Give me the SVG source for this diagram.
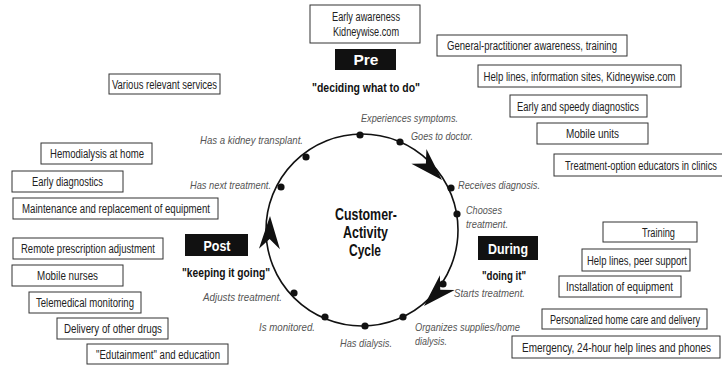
<svg xmlns="http://www.w3.org/2000/svg" width="722" height="365" viewBox="0 0 722 365">
<style>
text{font-family:"Liberation Sans",Arial,sans-serif}
.box rect{fill:#fff;stroke:#333;stroke-width:1}
.box text{font-size:12.5px;fill:#222;text-anchor:middle}
.phase rect{fill:#111}
.phase text.t{font-size:15px;font-weight:bold;fill:#fff;text-anchor:middle}
.phase text.q{font-size:12.5px;font-weight:bold;fill:#111;text-anchor:middle}
.act{font-size:11.5px;font-style:italic;fill:#555}
.center{font-size:16.5px;font-weight:bold;fill:#111;text-anchor:middle}
.dot{fill:#111}
</style>
<defs>
<path id="ah" d="M0,0 L-33,-10.5 L-23,0 L-33,10.5 Z" fill="#111"/>
</defs>
<rect width="722" height="365" fill="#fff"/>

<g id="connectors">
<circle cx="362" cy="230" r="96" fill="none" stroke="#111" stroke-width="1.6"/>
<use href="#ah" transform="translate(442,180) rotate(45.6)"/>
<use href="#ah" transform="translate(424,306) rotate(135)"/>
<use href="#ah" transform="translate(270,216) rotate(-89)"/>
</g>

<g id="cycle-center">
<text class="center" x="366" y="220" textLength="62" lengthAdjust="spacingAndGlyphs">Customer-</text>
<text class="center" x="365.5" y="238" textLength="45" lengthAdjust="spacingAndGlyphs">Activity</text>
<text class="center" x="365" y="256" textLength="32" lengthAdjust="spacingAndGlyphs">Cycle</text>
</g>

<g id="activities">
<circle class="dot" cx="360" cy="135" r="3.6"/><text class="act" x="361" y="122" textLength="97" lengthAdjust="spacingAndGlyphs">Experiences symptoms.</text>
<circle class="dot" cx="400" cy="142" r="3.6"/><text class="act" x="411" y="140" textLength="62" lengthAdjust="spacingAndGlyphs">Goes to doctor.</text>
<circle class="dot" cx="451" cy="188" r="3.6"/><text class="act" x="458" y="189" textLength="82" lengthAdjust="spacingAndGlyphs">Receives diagnosis.</text>
<circle class="dot" cx="457" cy="214" r="3.6"/><text class="act" x="466" y="214" textLength="36" lengthAdjust="spacingAndGlyphs">Chooses</text><text class="act" x="466" y="228" textLength="42" lengthAdjust="spacingAndGlyphs">treatment.</text>
<circle class="dot" cx="443" cy="284" r="3.6"/><text class="act" x="454" y="297" textLength="71" lengthAdjust="spacingAndGlyphs">Starts treatment.</text>
<circle class="dot" cx="403" cy="317" r="3.6"/><text class="act" x="415" y="331" textLength="105" lengthAdjust="spacingAndGlyphs">Organizes supplies/home</text><text class="act" x="415" y="345" textLength="32" lengthAdjust="spacingAndGlyphs">dialysis.</text>
<circle class="dot" cx="365" cy="326" r="3.6"/><text class="act" x="340" y="347" textLength="52" lengthAdjust="spacingAndGlyphs">Has dialysis.</text>
<circle class="dot" cx="325" cy="317" r="3.6"/><text class="act" x="259" y="331" textLength="56" lengthAdjust="spacingAndGlyphs">Is monitored.</text>
<circle class="dot" cx="294" cy="293" r="3.6"/><text class="act" x="203" y="301" textLength="79" lengthAdjust="spacingAndGlyphs">Adjusts treatment.</text>
<circle class="dot" cx="281" cy="187" r="3.6"/><text class="act" x="190" y="189" textLength="81" lengthAdjust="spacingAndGlyphs">Has next treatment.</text>
<circle class="dot" cx="306" cy="157" r="3.6"/><text class="act" x="200" y="144" textLength="103" lengthAdjust="spacingAndGlyphs">Has a kidney transplant.</text>
</g>

<g id="pre" class="phase">
<rect x="335" y="49" width="61" height="21"/>
<text class="t" x="366" y="65" textLength="25" lengthAdjust="spacingAndGlyphs">Pre</text>
<text class="q" x="366" y="92" textLength="108" lengthAdjust="spacingAndGlyphs">"deciding what to do"</text>
</g>
<g id="during" class="phase">
<rect x="478" y="236" width="60" height="24"/>
<text class="t" x="508" y="253.5" textLength="40" lengthAdjust="spacingAndGlyphs">During</text>
<text class="q" x="504" y="280" textLength="44" lengthAdjust="spacingAndGlyphs">"doing it"</text>
</g>
<g id="post" class="phase">
<rect x="185" y="234" width="63" height="22"/>
<text class="t" x="217" y="250.5" textLength="27" lengthAdjust="spacingAndGlyphs">Post</text>
<text class="q" x="226" y="277" textLength="88" lengthAdjust="spacingAndGlyphs">"keeping it going"</text>
</g>

<g id="b-early-awareness" class="box"><rect x="310" y="5" width="110" height="38"/><text x="366" y="21" textLength="68" lengthAdjust="spacingAndGlyphs">Early awareness</text><text x="366" y="36" textLength="66" lengthAdjust="spacingAndGlyphs">Kidneywise.com</text></g>
<g id="b-gp" class="box"><rect x="437" y="35" width="190" height="21"/><text x="532" y="50" textLength="170" lengthAdjust="spacingAndGlyphs">General-practitioner awareness, training</text></g>
<g id="b-helplines-info" class="box"><rect x="478" y="65" width="203" height="22"/><text x="579.5" y="80.5" textLength="192" lengthAdjust="spacingAndGlyphs">Help lines, information sites, Kidneywise.com</text></g>
<g id="b-speedy" class="box"><rect x="510" y="95" width="137" height="22"/><text x="578" y="110.5" textLength="122" lengthAdjust="spacingAndGlyphs">Early and speedy diagnostics</text></g>
<g id="b-mobile-units" class="box"><rect x="537" y="123" width="111" height="21"/><text x="592.5" y="138" textLength="53" lengthAdjust="spacingAndGlyphs">Mobile units</text></g>
<g id="b-educators" class="box"><rect x="554" y="154" width="175" height="22"/><text x="641" y="169.5" textLength="152" lengthAdjust="spacingAndGlyphs">Treatment-option educators in clinics</text></g>

<g id="b-various" class="box"><rect x="109" y="74" width="111" height="20"/><text x="164.5" y="88.5" textLength="105" lengthAdjust="spacingAndGlyphs">Various relevant services</text></g>
<g id="b-hemo" class="box"><rect x="41" y="143" width="111" height="21"/><text x="97" y="158" textLength="94" lengthAdjust="spacingAndGlyphs">Hemodialysis at home</text></g>
<g id="b-early-diag" class="box"><rect x="12" y="171" width="111" height="21"/><text x="67.5" y="186" textLength="71" lengthAdjust="spacingAndGlyphs">Early diagnostics</text></g>
<g id="b-maintenance" class="box"><rect x="13" y="198" width="205" height="21"/><text x="116" y="213" textLength="188" lengthAdjust="spacingAndGlyphs">Maintenance and replacement of equipment</text></g>
<g id="b-remote" class="box"><rect x="13" y="238" width="150" height="21"/><text x="88" y="253" textLength="134" lengthAdjust="spacingAndGlyphs">Remote prescription adjustment</text></g>
<g id="b-nurses" class="box"><rect x="12" y="265" width="111" height="21"/><text x="67.5" y="280" textLength="61" lengthAdjust="spacingAndGlyphs">Mobile nurses</text></g>
<g id="b-telemed" class="box"><rect x="29" y="292" width="112" height="21"/><text x="85" y="307" textLength="98" lengthAdjust="spacingAndGlyphs">Telemedical monitoring</text></g>
<g id="b-drugs" class="box"><rect x="57" y="318" width="111" height="21"/><text x="113" y="333" textLength="98" lengthAdjust="spacingAndGlyphs">Delivery of other drugs</text></g>
<g id="b-edutainment" class="box"><rect x="87" y="344" width="141" height="20"/><text x="158" y="358.5" textLength="124" lengthAdjust="spacingAndGlyphs">"Edutainment" and education</text></g>

<g id="b-training" class="box"><rect x="603" y="222" width="94" height="20"/><text x="658.5" y="236.5" textLength="33" lengthAdjust="spacingAndGlyphs">Training</text></g>
<g id="b-peer" class="box"><rect x="582" y="249" width="108" height="22"/><text x="637" y="264.5" textLength="100" lengthAdjust="spacingAndGlyphs">Help lines, peer support</text></g>
<g id="b-install" class="box"><rect x="559" y="276" width="122" height="21"/><text x="619.5" y="291" textLength="107" lengthAdjust="spacingAndGlyphs">Installation of equipment</text></g>
<g id="b-personal" class="box"><rect x="542" y="309" width="165" height="20"/><text x="625" y="323.5" textLength="150" lengthAdjust="spacingAndGlyphs">Personalized home care and delivery</text></g>
<g id="b-emergency" class="box"><rect x="512" y="336" width="208" height="22"/><text x="616.5" y="351.5" textLength="189" lengthAdjust="spacingAndGlyphs">Emergency, 24-hour help lines and phones</text></g>
</svg>
